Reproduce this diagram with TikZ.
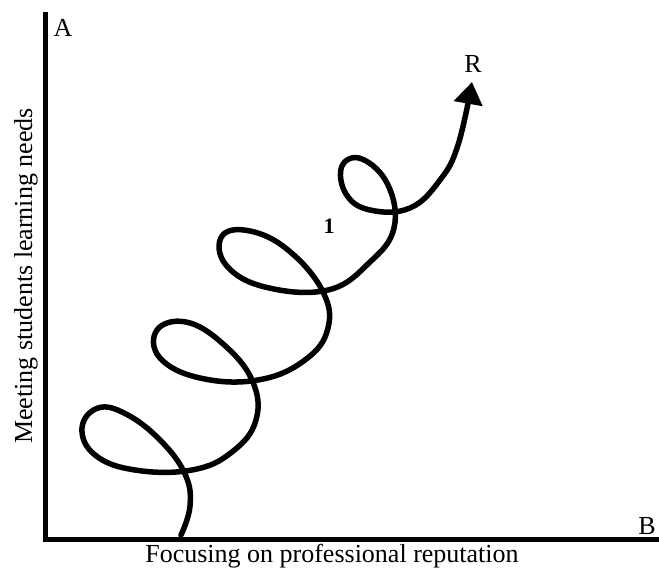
\documentclass[tikz,border=0pt]{standalone}
\usepackage{fontspec}
\setmainfont{Liberation Serif}
\usetikzlibrary{arrows.meta}

\begin{document}
\begin{tikzpicture}[
    x=1pt, y=-1pt,
    font=\fontsize{26}{30}\selectfont,
    axis/.style={line width=5pt},
    spiral/.style={line width=5.5pt, line cap=round, line join=round,
                   -{Triangle[length=22pt,width=28pt]}}
  ]
    \useasboundingbox (0,0) rectangle (659,569);
    \coordinate (top) at (45,12);
    \coordinate (O)   at (45,539);
    \coordinate (end) at (659,539);
    \draw[axis] (top) -- (O) -- (end);
    \node (A) at (63,28)   {A};
    \node (B) at (647,526) {B};
    \node (R) at (473,64)  {R};
    \node[font=\fontsize{22}{26}\selectfont\bfseries] (one) at (329,226) {1};
    \node (xlab) at (332,556) {Focusing on professional reputation};
    \node[rotate=90] (ylab) at (26,276) {Meeting students learning needs};
    \draw[spiral] plot[smooth, tension=0.7] coordinates {
        (181,535) (190,506) (185,474) (160,440) (126,414) (98,408)
        (82,428) (95,455) (135,470) (192,470)
        (232,452) (256,420) (252,380) (222,343)
        (186,322) (157,330) (160,358) (200,378)
        (258,380) (305,360) (328,328) (322,290)
        (288,250) (250,231) (222,236) (226,265)
        (265,287) (328,290) (370,262) (394,228) (388,185)
        (362,159) (342,166) (346,194) (370,210)
        (410,208) (440,180) (458,145) (472,82)};
\end{tikzpicture}
\end{document}
